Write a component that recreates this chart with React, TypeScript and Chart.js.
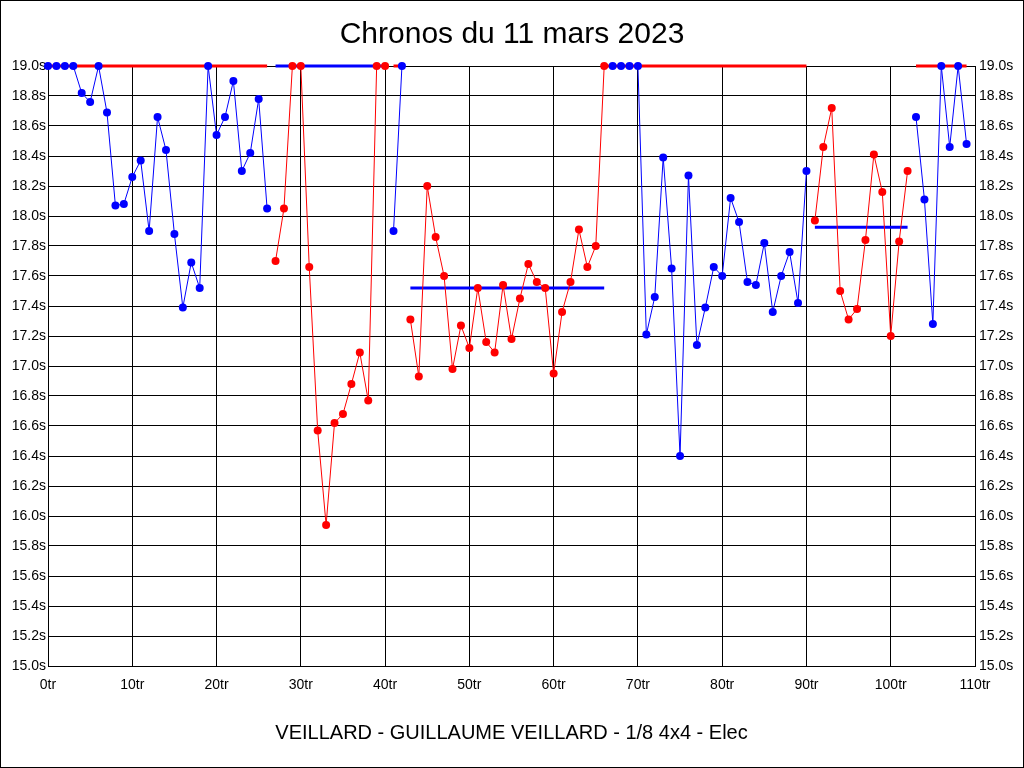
import { useEffect, useRef } from 'react';
import { Chart, registerables } from 'chart.js';

Chart.register(...registerables);

// Lap times in seconds, lap 0 to lap 109 (values above 19.0s are shown at the 19.0s ceiling)
const lapTimes = [
  19.0, 19.0, 19.0, 19.0, 18.82, 18.76, 19.0, 18.69, 18.07, 18.08,
  18.26, 18.37, 17.9, 18.66, 18.44, 17.88, 17.39, 17.69, 17.52, 19.0,
  18.54, 18.66, 18.9, 18.3, 18.42, 18.78, 18.05, 17.7, 18.05, 19.0,
  19.0, 17.66, 16.57, 15.94, 16.62, 16.68, 16.88, 17.09, 16.77, 19.0,
  19.0, 17.9, 19.0, 17.31, 16.93, 18.2, 17.86, 17.6, 16.98, 17.27,
  17.12, 17.52, 17.16, 17.09, 17.54, 17.18, 17.45, 17.68, 17.56, 17.52,
  16.95, 17.36, 17.56, 17.91, 17.66, 17.8, 19.0, 19.0, 19.0, 19.0,
  19.0, 17.21, 17.46, 18.39, 17.65, 16.4, 18.27, 17.14, 17.39, 17.66,
  17.6, 18.12, 17.96, 17.56, 17.54, 17.82, 17.36, 17.6, 17.76, 17.42,
  18.3, 17.97, 18.46, 18.72, 17.5, 17.31, 17.38, 17.84, 18.41, 18.16,
  17.2, 17.83, 18.3, 18.66, 18.11, 17.28, 19.0, 18.46, 19.0, 18.48,
];

// Runs: first and last lap of each, with alternating colours
const runStart = [0, 27, 41, 43, 67, 91, 103];
const runEnd = [26, 40, 42, 66, 90, 102, 109];
const runColors = ['#0000ff', '#ff0000', '#0000ff', '#ff0000', '#0000ff', '#ff0000', '#0000ff'];

// Average line of each run (drawn in the other colour)
const avgStart = [0, 27, 41, 43, 66, 91, 103];
const avgEnd = [26, 40, 42, 66, 90, 102, 109];
const avgValues = [19.0, 19.0, 19.0, 17.52, 19.0, 17.925, 19.0];
const avgColors = ['#ff0000', '#0000ff', '#ff0000', '#0000ff', '#ff0000', '#0000ff', '#ff0000'];

const xTicks = { min: 0, max: 110, step: 10 };
const yTicks = { min: 15, max: 19, step: 0.2 };

const FONT = "'Liberation Sans', Arial, sans-serif";

const App = () => {
  const canvasRef = useRef<HTMLCanvasElement>(null);
  const chartRef = useRef<Chart | null>(null);

  useEffect(() => {
    document.body.style.margin = '0';
    if (!canvasRef.current) return;
    if (chartRef.current) chartRef.current.destroy();

    const runSets = runStart.map((start, i) => ({
      data: lapTimes.slice(start, runEnd[i] + 1).map((v, j) => ({ x: start + j, y: v })),
      borderColor: runColors[i],
      backgroundColor: runColors[i],
      borderWidth: 1,
      pointRadius: 4,
      pointBorderWidth: 0,
      pointBackgroundColor: runColors[i],
      tension: 0,
      clip: false as const,
      order: 0,
    }));

    const avgSets = avgStart.map((start, i) => ({
      data: [
        { x: start, y: avgValues[i] },
        { x: avgEnd[i], y: avgValues[i] },
      ],
      borderColor: avgColors[i],
      backgroundColor: avgColors[i],
      borderWidth: 3,
      pointRadius: 0,
      clip: false as const,
      order: 1,
    }));

    const tickFont = { family: FONT, size: 14 };

    chartRef.current = new Chart(canvasRef.current, {
      type: 'line',
      data: { datasets: [...runSets, ...avgSets] },
      options: {
        responsive: false,
        animation: false,
        events: [],
        layout: { padding: 0 },
        plugins: {
          legend: { display: false },
          tooltip: { enabled: false },
          title: {
            display: true,
            text: 'Chronos du 11 mars 2023',
            color: '#000',
            font: { family: FONT, size: 30, weight: 'normal' },
            padding: { top: 17, bottom: 13 },
          },
        },
        scales: {
          x: {
            type: 'linear',
            min: xTicks.min,
            max: xTicks.max,
            afterFit: (scale) => { scale.height = 102; },
            grid: { color: '#000', lineWidth: 1, drawTicks: false },
            border: { color: '#000' },
            ticks: {
              stepSize: xTicks.step,
              color: '#000',
              font: tickFont,
              padding: 11,
              maxRotation: 0,
              callback: (v) => `${v}tr`,
            },
            title: {
              display: true,
              text: 'VEILLARD - GUILLAUME VEILLARD - 1/8 4x4 - Elec',
              color: '#000',
              font: { family: FONT, size: 20 },
              padding: { top: 0, bottom: 23 },
            },
          },
          y: {
            type: 'linear',
            position: 'left',
            min: yTicks.min,
            max: yTicks.max,
            afterFit: (scale) => { scale.width = 48; },
            grid: { color: '#000', lineWidth: 1, drawTicks: false },
            border: { color: '#000' },
            ticks: {
              stepSize: yTicks.step,
              color: '#000',
              font: tickFont,
              padding: 2,
              callback: (v) => `${Number(v).toFixed(1)}s`,
            },
          },
          y2: {
            type: 'linear',
            position: 'right',
            min: yTicks.min,
            max: yTicks.max,
            afterFit: (scale) => { scale.width = 49; },
            grid: { drawOnChartArea: false, drawTicks: false },
            border: { color: '#000' },
            ticks: {
              stepSize: yTicks.step,
              color: '#000',
              font: tickFont,
              padding: 4,
              callback: (v) => `${Number(v).toFixed(1)}s`,
            },
          },
        },
      },
    });

    return () => {
      if (chartRef.current) {
        chartRef.current.destroy();
        chartRef.current = null;
      }
    };
  }, []);

  return (
    <div style={{ width: 1024, height: 768, background: '#fff' }}>
      <canvas
        ref={canvasRef}
        width={1024}
        height={768}
        style={{ display: 'block', outline: '1px solid #000', outlineOffset: -1 }}
      />
    </div>
  );
};

export default App;
